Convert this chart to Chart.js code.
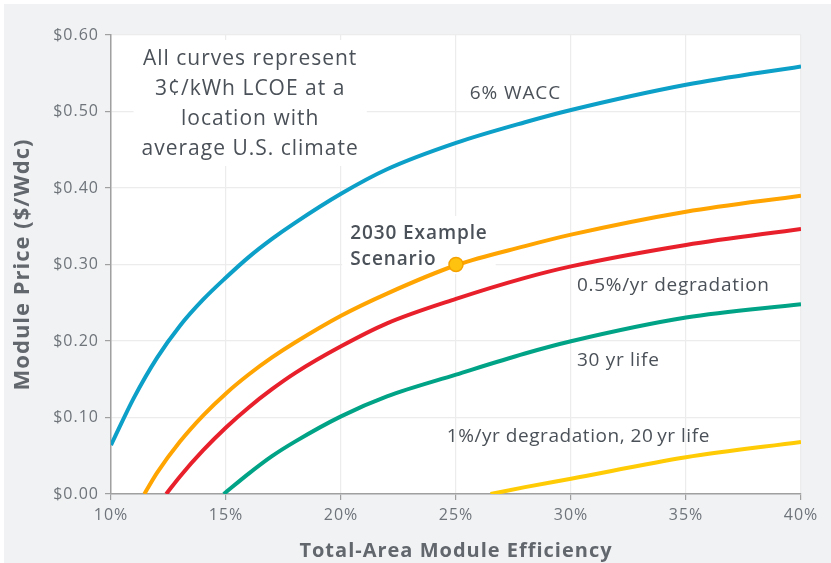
<!DOCTYPE html>
<html>
<head>
<meta charset="utf-8">
<script src="https://cdn.jsdelivr.net/npm/chart.js@4.4.1/dist/chart.umd.min.js"></script>
<style>
html,body{margin:0;padding:0;background:#fff;}
#wrap{width:831px;height:563px;position:relative;}
</style>
</head>
<body>
<div id="wrap"><canvas id="c" width="831" height="563"></canvas></div>
<script>
// ---- Data (efficiency in %, module price in $/Wdc) ----
const xTicks = [10, 15, 20, 25, 30, 35, 40];
const yTicks = [0, 0.1, 0.2, 0.3, 0.4, 0.5, 0.6];

const waccX = [10, 11, 12, 13, 14, 15, 16, 17, 18, 20, 22, 25, 28, 30, 35, 40];
const waccY = [0.064, 0.126, 0.178, 0.220, 0.254, 0.283, 0.310, 0.3335, 0.3545, 0.3925, 0.4245, 0.459, 0.486, 0.502, 0.535, 0.559];

const baseX = [11.45, 12, 13, 14, 15, 16, 17, 18, 20, 22, 25, 28, 30, 35, 40];
const baseY = [0, 0.0275, 0.0685, 0.1025, 0.1315, 0.1565, 0.1785, 0.198, 0.233, 0.262, 0.299, 0.324, 0.339, 0.369, 0.390];

const degX = [12.4, 13, 14, 15, 16, 17, 18, 20, 22, 25, 28, 30, 35, 40];
const degY = [0, 0.023, 0.057, 0.087, 0.1135, 0.137, 0.158, 0.193, 0.223, 0.255, 0.2825, 0.2975, 0.3255, 0.3465];

const lifeX = [14.9, 16, 17, 18, 20, 22, 25, 28, 30, 35, 40];
const lifeY = [0, 0.027, 0.0495, 0.0685, 0.1015, 0.1275, 0.156, 0.1836, 0.1996, 0.2306, 0.248];

const worstX = [26.5, 28, 30, 35, 40];
const worstY = [0, 0.009, 0.020, 0.048, 0.068];

const scenarioX = [25];
const scenarioY = [0.30];

const toPts = (xs, ys) => xs.map((x, i) => ({x: x, y: ys[i]}));

// ---- Text annotations (data coordinates) ----
const notes = [
  {lines: ['All curves represent', '3¢/kWh LCOE at a', 'location with', 'average U.S. climate'], x: 16.05, y: 0.5686, align: 'center', size: 21, weight: '400', lh: 30, sp: 1, box: true},
  {lines: ['6% WACC'], x: 25.6, y: 0.524, align: 'left', size: 19, weight: '400', lh: 24, sp: 0.9},
  {lines: ['2030 Example', 'Scenario'], x: 20.4, y: 0.341, align: 'left', size: 19, weight: '600', lh: 26, sp: 0.9, box: true},
  {lines: ['0.5%/yr degradation'], x: 30.26, y: 0.272, align: 'left', size: 19, weight: '400', lh: 24, sp: 0.7},
  {lines: ['30 yr life'], x: 30.26, y: 0.175, align: 'left', size: 19, weight: '400', lh: 24, sp: 0.7},
  {lines: ['1%/yr degradation, 20\u2009yr life'], x: 24.6, y: 0.0745, align: 'left', size: 19, weight: '400', lh: 24, sp: 0.55}
];

const FONT = '"Open Sans", Lato, sans-serif';

const bgPlugin = {
  id: 'bg',
  beforeDraw(chart) {
    const ctx = chart.ctx, a = chart.chartArea;
    ctx.save();
    ctx.fillStyle = '#ffffff';
    ctx.fillRect(0, 0, chart.width, chart.height);
    ctx.fillStyle = '#f1f2f4';
    ctx.fillRect(4, 4, chart.width - 4, chart.height - 4);
    ctx.fillStyle = '#ffffff';
    ctx.fillRect(a.left, a.top, a.right - a.left, a.bottom - a.top);
    ctx.restore();
    ctx.letterSpacing = '1px';
  }
};

function drawNotes(chart, boxes) {
  const ctx = chart.ctx, xs = chart.scales.x, ys = chart.scales.y;
  ctx.save();
  notes.forEach(n => {
    const px = xs.getPixelForValue(n.x), py = ys.getPixelForValue(n.y);
    ctx.font = n.weight + ' ' + n.size + 'px ' + FONT;
    ctx.letterSpacing = n.sp + 'px';
    if (boxes) {
      if (!n.box) return;
      let w = 0;
      n.lines.forEach(l => { w = Math.max(w, ctx.measureText(l).width); });
      const left = n.align === 'center' ? px - w / 2 : px;
      ctx.fillStyle = '#ffffff';
      ctx.fillRect(left - 8, py - n.lh / 2 - 4, w + 16, n.lh * n.lines.length + 6);
    } else {
      ctx.fillStyle = '#4b5158';
      ctx.textAlign = n.align;
      ctx.textBaseline = 'middle';
      n.lines.forEach((l, i) => ctx.fillText(l, px, py + i * n.lh));
    }
  });
  ctx.restore();
}

const notesPlugin = {
  id: 'notes',
  beforeDatasetsDraw(chart) { drawNotes(chart, true); },
  afterDatasetsDraw(chart) { drawNotes(chart, false); }
};

const lineDs = (label, xs, ys, color) => ({
  label: label,
  data: toPts(xs, ys),
  borderColor: color,
  borderWidth: 4,
  pointRadius: 0,
  fill: false,
  cubicInterpolationMode: 'monotone'
});

new Chart(document.getElementById('c'), {
  type: 'line',
  data: {
    datasets: [
      {
        label: '2030 Example Scenario',
        data: toPts(scenarioX, scenarioY),
        showLine: false,
        pointRadius: 7,
        pointBackgroundColor: '#ffc20e',
        pointBorderColor: '#f5a200',
        pointBorderWidth: 1.5,
        order: 0
      },
      Object.assign(lineDs('6% WACC', waccX, waccY, '#0c9fc7'), {order: 5}),
      Object.assign(lineDs('2030 baseline', baseX, baseY, '#ffa400'), {order: 4}),
      Object.assign(lineDs('0.5%/yr degradation', degX, degY, '#e8202c'), {order: 3}),
      Object.assign(lineDs('30 yr life', lifeX, lifeY, '#00a386'), {order: 2}),
      Object.assign(lineDs('1%/yr degradation, 20 yr life', worstX, worstY, '#ffcb05'), {order: 1})
    ]
  },
  options: {
    responsive: false,
    animation: false,
    layout: {padding: {left: 0, right: 30, top: 35, bottom: 0}},
    plugins: {legend: {display: false}, tooltip: {enabled: false}},
    scales: {
      x: {
        type: 'linear',
        min: 10, max: 40,
        afterFit(s) { s.height = 69; },
        afterBuildTicks(s) { s.ticks = xTicks.map(v => ({value: v})); },
        border: {color: '#a0a0a0', width: 1.5},
        grid: {color: '#ececec', lineWidth: 1.2, tickColor: '#a0a0a0', tickLength: 6, drawTicks: true},
        ticks: {
          color: '#6e747a', padding: 6,
          font: {family: FONT, size: 16},
          callback: v => v + '%'
        },
        title: {
          display: true, text: 'Total-Area Module Efficiency',
          color: '#62676d', font: {family: FONT, size: 20, weight: '700'},
          padding: {top: 0, bottom: 0}
        }
      },
      y: {
        type: 'linear',
        min: 0, max: 0.6,
        afterFit(s) { s.width = 111; },
        afterBuildTicks(s) { s.ticks = yTicks.map(v => ({value: v})); },
        border: {color: '#a0a0a0', width: 1.5},
        grid: {color: '#ececec', lineWidth: 1.2, tickColor: '#a0a0a0', tickLength: 6, drawTicks: true},
        ticks: {
          color: '#6e747a', padding: 6,
          font: {family: FONT, size: 16},
          callback: v => '$' + Number(v).toFixed(2)
        },
        title: {
          display: true, text: 'Module Price ($/Wdc)',
          color: '#62676d', font: {family: FONT, size: 22, weight: '700'},
          padding: {top: 10, bottom: 0}
        }
      }
    }
  },
  plugins: [bgPlugin, notesPlugin]
});
</script>
</body>
</html>
